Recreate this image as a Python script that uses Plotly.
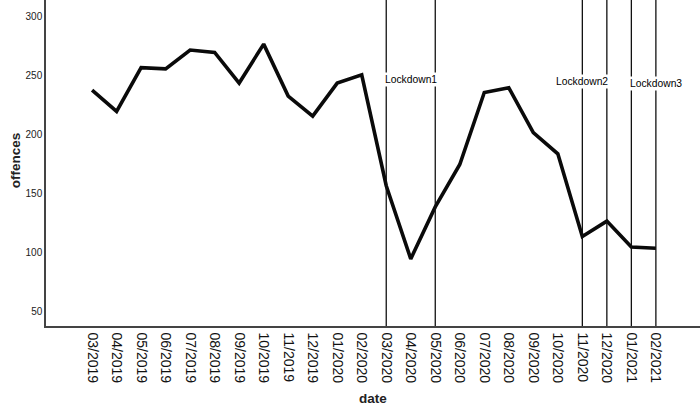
import plotly.graph_objects as go

# monthly offences
dates = ['03/2019', '04/2019', '05/2019', '06/2019', '07/2019', '08/2019',
         '09/2019', '10/2019', '11/2019', '12/2019', '01/2020', '02/2020',
         '03/2020', '04/2020', '05/2020', '06/2020', '07/2020', '08/2020',
         '09/2020', '10/2020', '11/2020', '12/2020', '01/2021', '02/2021']
offences = [238, 220, 257, 256, 272, 270, 244, 277, 233, 216, 244, 251,
            157, 95, 139, 175, 236, 240, 202, 184, 114, 127, 105, 104]

# reference lines and labels
lockdown_lines = ['03/2020', '05/2020', '11/2020', '12/2020', '01/2021', '02/2021']
lockdown_labels = ['Lockdown1', 'Lockdown2', 'Lockdown3']
label_pos = ['04/2020', '11/2020', '02/2021']
label_y = [247, 245, 244]

fig = go.Figure()
fig.add_trace(go.Scatter(x=dates, y=offences, mode='lines',
                         line=dict(color='#0a0a0a', width=3.6),
                         showlegend=False))

for d in lockdown_lines:
    fig.add_shape(type='line', xref='x', yref='paper', x0=d, x1=d, y0=0, y1=1,
                  line=dict(color='#111', width=1.3))

for txt, xp, yp in zip(lockdown_labels, label_pos, label_y):
    fig.add_annotation(x=xp, y=yp, text=txt, showarrow=False,
                       font=dict(family='Arial', size=10.3, color='#000'),
                       bgcolor='white', borderpad=1)

# axis titles
fig.add_annotation(x=0.5, y=-0.221, xref='paper', yref='paper', text='<b>date</b>',
                   xanchor='center', yanchor='middle', showarrow=False,
                   font=dict(family='Arial', size=13.5, color='#222'))
fig.add_annotation(x=-0.047, y=0.509, xref='paper', yref='paper', text='<b>offences</b>',
                   xanchor='center', yanchor='middle', textangle=-90, showarrow=False,
                   font=dict(family='Arial', size=13.5, color='#222'))

fig.update_layout(width=700, height=406,
                  margin=dict(l=46, r=0, t=0, b=80),
                  plot_bgcolor='white', paper_bgcolor='white',
                  font=dict(family='Arial', color='#222'),
                  showlegend=False)
fig.update_xaxes(type='category', range=[-1.88, 24.8], tickangle=90, automargin=False,
                 showgrid=False, showline=True, linecolor='#444', linewidth=1.5,
                 ticks='', ticklabelstandoff=2, tickfont=dict(size=14, color='#111'))
fig.update_yaxes(range=[38.1, 314.4], tickvals=[50, 100, 150, 200, 250, 300],
                 automargin=False, showgrid=False, showline=True, linecolor='#444',
                 linewidth=1.5, zeroline=False, ticks='',
                 tickfont=dict(size=10, color='#222'))

fig.write_html("out.html", config={'displayModeBar': False},
               post_script="document.body.style.margin='0';")
